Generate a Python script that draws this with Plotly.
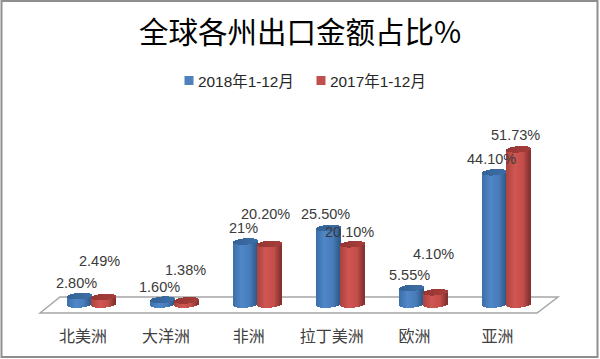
import math
import plotly.graph_objects as go

categories = ["北美洲", "大洋洲", "非洲", "拉丁美洲", "欧洲", "亚洲"]
series_2018 = [2.80, 1.60, 21.0, 25.50, 5.55, 44.10]
series_2017 = [2.49, 1.38, 20.20, 20.10, 4.10, 51.73]
labels_2018 = ["2.80%", "1.60%", "21%", "25.50%", "5.55%", "44.10%"]
labels_2017 = ["2.49%", "1.38%", "20.20%", "20.10%", "4.10%", "51.73%"]
name_2018 = "2018年1-12月"
name_2017 = "2017年1-12月"
title_text = "全球各州出口金额占比%"

# layout constants (pixels)
W, H = 600, 359
MB = 39
CAT0, STEP = 83.0, 82.9
BASE_PX, PX_PER = 304.5, 3.0
RX, RY, TILT = 12.0, 3.2, 0.9
N = 24
px2x = lambda p: (p - CAT0) / STEP
py2y = lambda p: (BASE_PX - p) / PX_PER
xr = [px2x(0), px2x(W)]
yr = [py2y(H - MB), py2y(0)]


def lerp(a, b, t):
    return tuple(a[i] + (b[i] - a[i]) * t for i in range(3))


def ramp(stops, t):
    for (t0, c0), (t1, c1) in zip(stops, stops[1:]):
        if t <= t1:
            return lerp(c0, c1, (t - t0) / (t1 - t0))
    return stops[-1][1]


def rgb(c):
    return "rgb(%d,%d,%d)" % tuple(round(v) for v in c)


BLUE = [(0, (62, 112, 170)), (0.35, (80, 135, 200)), (0.7, (72, 124, 186)), (1, (48, 90, 140))]
RED = [(0, (172, 68, 64)), (0.35, (208, 86, 82)), (0.72, (196, 78, 74)), (1, (134, 50, 48))]
BLUE_TOP = [(0, (52, 98, 150)), (1, (60, 110, 165))]
RED_TOP = [(0, (150, 54, 52)), (1, (165, 62, 58))]

fig = go.Figure()


def cylinder(values, name, center_off, body, top, swatch):
    w = 2 * RX / N
    for k in range(N):
        u = -1 + (k + 0.5) * 2 / N
        h = math.sqrt(1 - u * u) * RY / PX_PER
        tilt = u * TILT / PX_PER
        xs = [i + (center_off + u * RX) / STEP for i in range(len(values))]
        fig.add_trace(go.Bar(
            x=xs, y=[v + h for v in values],
            base=[-h + tilt] * len(values),
            width=(w + 0.6) / STEP,
            marker=dict(color=rgb(ramp(body, k / (N - 1))), line_width=0),
            showlegend=False, hoverinfo="skip"))
    for k in range(N):
        u = -1 + (k + 0.5) * 2 / N
        h = math.sqrt(1 - u * u) * RY / PX_PER
        tilt = u * TILT / PX_PER
        xs = [i + (center_off + u * RX) / STEP for i in range(len(values))]
        fig.add_trace(go.Bar(
            x=xs, y=[2 * h] * len(values),
            base=[v - h + tilt for v in values],
            width=(w + 0.6) / STEP,
            marker=dict(color=rgb(ramp(top, k / (N - 1))), line_width=0),
            showlegend=False, hoverinfo="skip"))
    # legend entry
    fig.add_trace(go.Bar(x=[None], y=[None], name=name, marker=dict(color=swatch, line_width=0)))


cylinder(series_2018, name_2018, -3.0, BLUE, BLUE_TOP, "#4f81bd")
cylinder(series_2017, name_2017, 21.0, RED, RED_TOP, "#c0504d")

# data labels: value point + hand offset (pixels)
off_2018 = [(-7, 0, 283), (-6, 0, 287), (-5, 0, 228), (-6, 0, 214), (-5, 0, 275), (-6, 0, 159)]
off_2017 = [(16.5, 0, 261), (20, 0, 270), (17, 0, 214), (18, 0, 232), (19, 0, 254), (18, 0, 135)]
ann = []
for vals, labs, offs in ((series_2018, labels_2018, off_2018), (series_2017, labels_2017, off_2017)):
    for i, (v, t, o) in enumerate(zip(vals, labs, offs)):
        ann.append(dict(
            x=i, y=v, text=t, showarrow=False,
            xshift=o[0], yshift=(BASE_PX - v * PX_PER) - o[2],
            xanchor="center", yanchor="middle",
            font=dict(family="Liberation Sans", size=14.5, color="#3a3a3a")))

# floor and frame
fx = lambda p: p / W
fy = lambda p: 1 - p / (H - MB)
shapes = [
    dict(type="path", xref="paper", yref="paper", layer="below",
         path=f"M{fx(40)},{fy(313)} L{fx(60)},{fy(297)} L{fx(558)},{fy(297)} L{fx(537)},{fy(313)} Z",
         line=dict(color="#a6a6a6", width=1.5), fillcolor="white"),
    dict(type="rect", xref="paper", yref="paper", layer="below",
         x0=fx(1.5), x1=fx(597.5), y0=fy(1), y1=fy(357),
         line=dict(color="#8f8f8f", width=2), fillcolor="rgba(0,0,0,0)"),
]

fig.update_layout(
    width=W, height=H, margin=dict(l=0, r=0, t=0, b=MB, pad=0),
    paper_bgcolor="white", plot_bgcolor="rgba(0,0,0,0)",
    barmode="overlay", bargap=0,
    title=dict(text=title_text, x=0.5, xanchor="center", xref="paper", y=1 - 33 / H, yanchor="middle",
               font=dict(family="Noto Sans CJK SC", size=29.5, color="black")),
    xaxis=dict(range=xr, tickmode="array", tickvals=list(range(len(categories))), ticktext=categories,
               showgrid=False, zeroline=False, showline=False, ticks="", ticklabelstandoff=5,
               tickfont=dict(family="Noto Sans CJK SC", size=16, color="#404040"), fixedrange=True),
    yaxis=dict(range=yr, visible=False, fixedrange=True),
    legend=dict(orientation="h", x=169 / W, xanchor="left", y=1 - 81 / (H - MB), yanchor="middle",
                font=dict(family="Liberation Sans, Noto Sans CJK SC", size=15.4, color="#262626"),
                bgcolor="rgba(0,0,0,0)", traceorder="normal", itemwidth=30,
                entrywidth=87, entrywidthmode="pixels"),
    shapes=shapes, annotations=ann, showlegend=True,
)
fix = """
document.body.style.margin='0';
document.documentElement.style.overflow='hidden';
function tightLegend(){
  document.querySelectorAll('.legendtext').forEach(function(t){t.setAttribute('x','29');});
  document.querySelectorAll('.legendbar path, .legendpoints path').forEach(function(p){
    var d=p.getAttribute('d'); if(d && d.indexOf('M6,6')===0){p.setAttribute('d','M4.5,4.5H-4.5V-4.5H4.5Z');}
  });
}
tightLegend(); setTimeout(tightLegend,50); setTimeout(tightLegend,400);
"""
fig.write_html("out.html", config={"displayModeBar": False}, post_script=fix)
